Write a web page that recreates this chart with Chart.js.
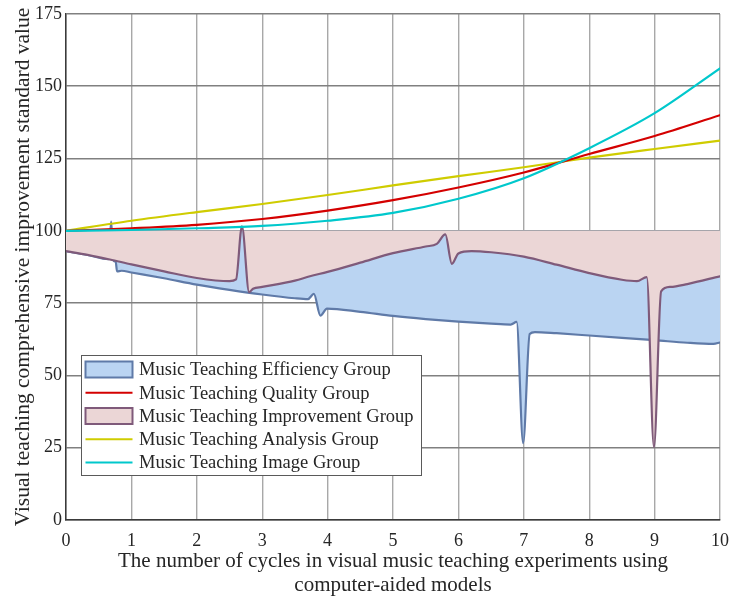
<!DOCTYPE html>
<html>
<head>
<meta charset="utf-8">
<script src="https://cdn.jsdelivr.net/npm/chart.js@4/dist/chart.umd.min.js"></script>
<style>
  html, body { margin: 0; padding: 0; background: #ffffff; }
  #wrap { width: 733px; height: 598px; position: relative; }
  canvas { display: block; }
</style>
</head>
<body>
<div id="wrap"><canvas id="chart" width="733" height="598"></canvas></div>
<script>
// Experiment cycles and the smooth group curves sampled at each cycle
const cycles = [0, 1, 2, 3, 4, 5, 6, 7, 8, 9, 10];
const qualityGroup  = [100, 100.9, 102.1, 104.1, 107.0, 110.6, 115.0, 120.2, 126.6, 132.8, 140.0];
const analysisGroup = [100, 103.5, 106.5, 109.3, 112.4, 115.7, 118.9, 122.0, 125.3, 128.3, 131.2];
const imageGroup    = [100, 100.3, 100.9, 101.7, 103.5, 106.2, 111.1, 118.2, 128.6, 140.7, 156.2];

// Efficiency group (area against the 100 reference level)
const efficiencyCycle = [0, 0.33, 0.65, 0.69, 0.73, 0.76, 0.78, 0.85, 1, 1.5, 2, 2.5, 3, 3.5, 3.7, 3.79, 3.89, 3.99,
                         4.5, 5, 5.5, 6, 6.5, 6.8, 6.89, 6.99, 7.09, 7.17, 7.5, 8, 8.5, 9, 9.5, 9.9, 10];
const efficiencyValue = [93.0, 91.7, 90.2, 103.2, 89.6, 89.4, 86.0, 86.2, 85.6, 83.6, 81.4, 79.6, 78.0, 76.7, 76.4, 78.2, 70.7, 73.1,
                         72.0, 70.6, 69.5, 68.6, 67.9, 67.6, 68.5, 26.6, 64.3, 65.0, 64.6, 63.8, 63.0, 62.2, 61.3, 60.9, 61.4];

// Improvement group (area against the 100 reference level)
const improvementCycle = [0, 0.33, 0.67, 1, 1.5, 2, 2.5, 2.6, 2.69, 2.8, 2.86, 3, 3.5, 3.73, 4, 4.5, 5, 5.5, 5.67, 5.8, 5.9,
                          6.0, 6.2, 6.5, 7, 7.5, 8, 8.5, 8.73, 8.88, 8.99, 9.1, 9.24, 9.5, 10];
const improvementValue = [93.0, 91.7, 90.1, 88.4, 86.0, 83.7, 82.6, 83.2, 101.6, 78.8, 80.0, 80.6, 82.8, 84.3, 85.8, 89.0, 92.3, 94.6, 95.5, 98.8, 88.6,
                          92.2, 93.0, 92.6, 91.1, 88.3, 85.4, 83.1, 82.6, 84.0, 25.2, 79.1, 80.6, 81.6, 84.3];

const yTicks = [0, 25, 50, 75, 100, 125, 150, 175];
const seriesNames = [
  'Music Teaching Efficiency Group',
  'Music Teaching Quality Group',
  'Music Teaching Improvement Group',
  'Music Teaching Analysis Group',
  'Music Teaching Image Group'
];
const referenceLevel = 100;

const SERIF = '"Liberation Serif", "Times New Roman", serif';
const TEXT = '#262626';

const toPoints = (xs, ys) => xs.map((x, i) => ({ x: x, y: ys[i] }));

// Boxed legend drawn inside the plot, lower-left
const boxedLegend = {
  id: 'boxedLegend',
  afterDraw(chart) {
    const { ctx, chartArea } = chart;
    const left = chartArea.left + 15;
    const top = chartArea.top + 341;
    const width = 340;
    const height = 120;
    const rowStart = top + 14.5;
    const rowStep = 23.25;
    ctx.save();
    ctx.fillStyle = '#ffffff';
    ctx.fillRect(left, top, width, height);
    ctx.strokeStyle = '#5a5a5a';
    ctx.lineWidth = 1;
    ctx.strokeRect(left + 0.5, top + 0.5, width, height);
    ctx.font = '18.5px ' + SERIF;
    ctx.textBaseline = 'middle';
    ctx.textAlign = 'left';
    chart.data.datasets.forEach((ds, i) => {
      const y = rowStart + i * rowStep;
      const sx = left + 4.5;
      const sw = 47;
      if (ds.fill) {
        ctx.fillStyle = ds.backgroundColor;
        ctx.fillRect(sx, y - 8, sw, 16);
        ctx.strokeStyle = ds.borderColor;
        ctx.lineWidth = 2;
        ctx.strokeRect(sx, y - 8, sw, 16);
      } else {
        ctx.strokeStyle = ds.borderColor;
        ctx.lineWidth = 2.2;
        ctx.beginPath();
        ctx.moveTo(sx, y);
        ctx.lineTo(sx + sw, y);
        ctx.stroke();
      }
      ctx.fillStyle = TEXT;
      ctx.fillText(ds.label, left + 58, y + 1);
    });
    ctx.restore();
  }
};

new Chart(document.getElementById('chart'), {
  type: 'line',
  data: {
    datasets: [
      {
        label: seriesNames[0],
        data: toPoints(efficiencyCycle, efficiencyValue),
        borderColor: '#5f7aa8',
        backgroundColor: '#bad4f2',
        borderWidth: 2.2,
        fill: { value: referenceLevel },
        order: 5
      },
      {
        label: seriesNames[1],
        data: toPoints(cycles, qualityGroup),
        borderColor: '#d40000',
        backgroundColor: '#d40000',
        borderWidth: 2.2,
        fill: false,
        order: 2
      },
      {
        label: seriesNames[2],
        data: toPoints(improvementCycle, improvementValue),
        borderColor: '#7f5a7a',
        backgroundColor: '#ebd6d6',
        borderWidth: 2.2,
        fill: { value: referenceLevel },
        order: 4
      },
      {
        label: seriesNames[3],
        data: toPoints(cycles, analysisGroup),
        borderColor: '#cfcc00',
        backgroundColor: '#cfcc00',
        borderWidth: 2.2,
        fill: false,
        order: 3
      },
      {
        label: seriesNames[4],
        data: toPoints(cycles, imageGroup),
        borderColor: '#00c8cc',
        backgroundColor: '#00c8cc',
        borderWidth: 2.2,
        fill: false,
        order: 1
      }
    ]
  },
  options: {
    responsive: false,
    animation: false,
    devicePixelRatio: 1,
    events: [],
    elements: {
      point: { radius: 0 },
      line: { cubicInterpolationMode: 'monotone', borderJoinStyle: 'round', borderCapStyle: 'round' }
    },
    layout: { padding: { top: 14, right: 13, left: 0, bottom: 0 } },
    plugins: {
      legend: { display: false },
      tooltip: { enabled: false },
      filler: { propagate: false }
    },
    scales: {
      x: {
        type: 'linear',
        min: 0,
        max: 10,
        afterFit(scale) {
          scale.height = 78;
          scale.paddingLeft = 0;
          scale.paddingRight = 0;
        },
        ticks: {
          stepSize: 1,
          padding: 10,
          color: TEXT,
          font: { family: SERIF, size: 18 },
          maxRotation: 0
        },
        grid: { color: '#a8a8a8', lineWidth: 1.4, drawTicks: false },
        border: { color: '#3a3a3a', width: 1.5 },
        title: {
          display: true,
          text: ['The number of cycles in visual music teaching experiments using', 'computer-aided models'],
          color: TEXT,
          font: { family: SERIF, size: 21, lineHeight: 1.15 },
          padding: { top: 0, bottom: 0 }
        }
      },
      y: {
        type: 'linear',
        min: 0,
        max: 175,
        afterFit(scale) {
          scale.width = 66;
          scale.paddingTop = 0;
          scale.paddingBottom = 0;
        },
        afterBuildTicks(scale) { scale.ticks = yTicks.map(v => ({ value: v })); },
        ticks: {
          padding: 4,
          color: TEXT,
          font: { family: SERIF, size: 18 }
        },
        grid: { color: '#808080', lineWidth: 1.6, drawTicks: false },
        border: { color: '#3a3a3a', width: 1.5 },
        title: {
          display: true,
          text: 'Visual teaching comprehensive improvement standard value',
          color: TEXT,
          font: { family: SERIF, size: 21.5, lineHeight: 1.2 },
          padding: { top: 10, bottom: 0 }
        }
      }
    }
  },
  plugins: [boxedLegend]
});
</script>
</body>
</html>
